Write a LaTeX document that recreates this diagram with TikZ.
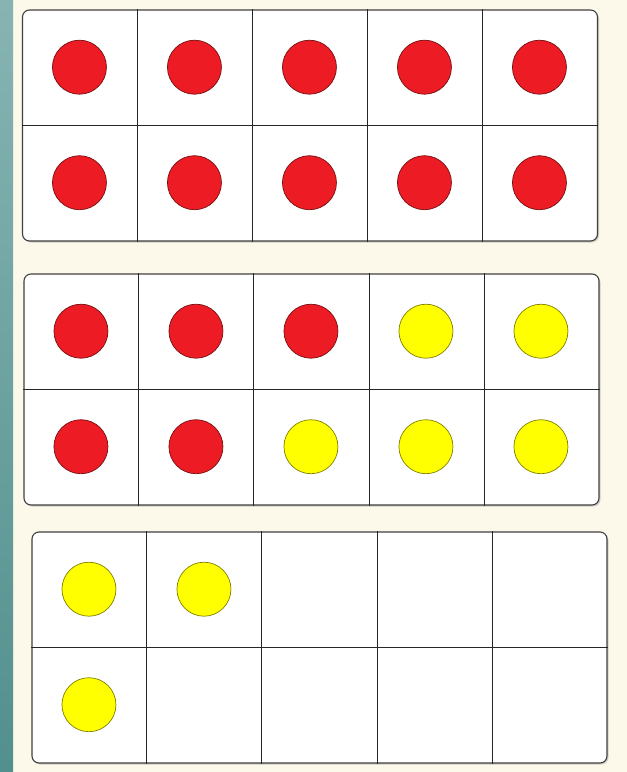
\documentclass[tikz,border=0pt]{standalone}
\usetikzlibrary{positioning,calc,shadows}

\definecolor{cream}{HTML}{FCF8EA}
\definecolor{tealtop}{HTML}{86B4B3}
\definecolor{tealbot}{HTML}{52908D}
\definecolor{dotred}{HTML}{ED1C24}
\definecolor{dotyellow}{HTML}{FFFF00}

\begin{document}
\begin{tikzpicture}[x=1pt,y=-1pt,
    frame/.style={draw=black!75, line width=1.1pt, fill=white, rounded corners=7pt,
        minimum width=575pt, minimum height=231pt, inner sep=0pt,
        drop shadow={shadow xshift=1.5pt, shadow yshift=-1.5pt, opacity=0.35}},
    grid/.style={draw=black!85, line width=0.9pt},
    dot/.style={circle, line width=0.7pt, minimum size=54pt, inner sep=0pt}]
    % Background and side strip
    \fill[cream] (0,0) rectangle (627,772);
    \shade[top color=tealtop, bottom color=tealbot] (0,0) rectangle (13,772);

    % Ten frames
    \node[frame] (ten1) at (310,125.5) {};
    \node[frame] (ten2) at (311.5,389.5) {};
    \node[frame] (ten3) at (319.5,647.5) {};

    % Cell dividers
    \foreach \f in {ten1,ten2,ten3} {
        \draw[grid] (\f.west) -- (\f.east);
        \foreach \k in {1,...,4}
            \draw[grid] ($(\f.north west)!\k/5!(\f.north east)$) -- ($(\f.south west)!\k/5!(\f.south east)$);
    }

    % Counters in the first frame
    \foreach \c in {0,...,4}
        \foreach \r in {0,1}
            \node[dot, fill=dotred, draw=dotred!50!black] (a-\c-\r)
                at ($(ten1.north west)+(57.5+115*\c,57.75+115.5*\r)$) {};

    % Counters in the second frame
    \foreach \c/\r/\col in {0/0/dotred, 1/0/dotred, 2/0/dotred, 3/0/dotyellow, 4/0/dotyellow,
                            0/1/dotred, 1/1/dotred, 2/1/dotyellow, 3/1/dotyellow, 4/1/dotyellow}
        \node[dot, fill=\col, draw=\col!50!black] (b-\c-\r)
            at ($(ten2.north west)+(57.5+115*\c,57.75+115.5*\r)$) {};

    % Counters in the third frame
    \foreach \c/\r in {0/0, 1/0, 0/1}
        \node[dot, fill=dotyellow, draw=dotyellow!50!black] (c-\c-\r)
            at ($(ten3.north west)+(57.5+115*\c,57.75+115.5*\r)$) {};
\end{tikzpicture}
\end{document}
